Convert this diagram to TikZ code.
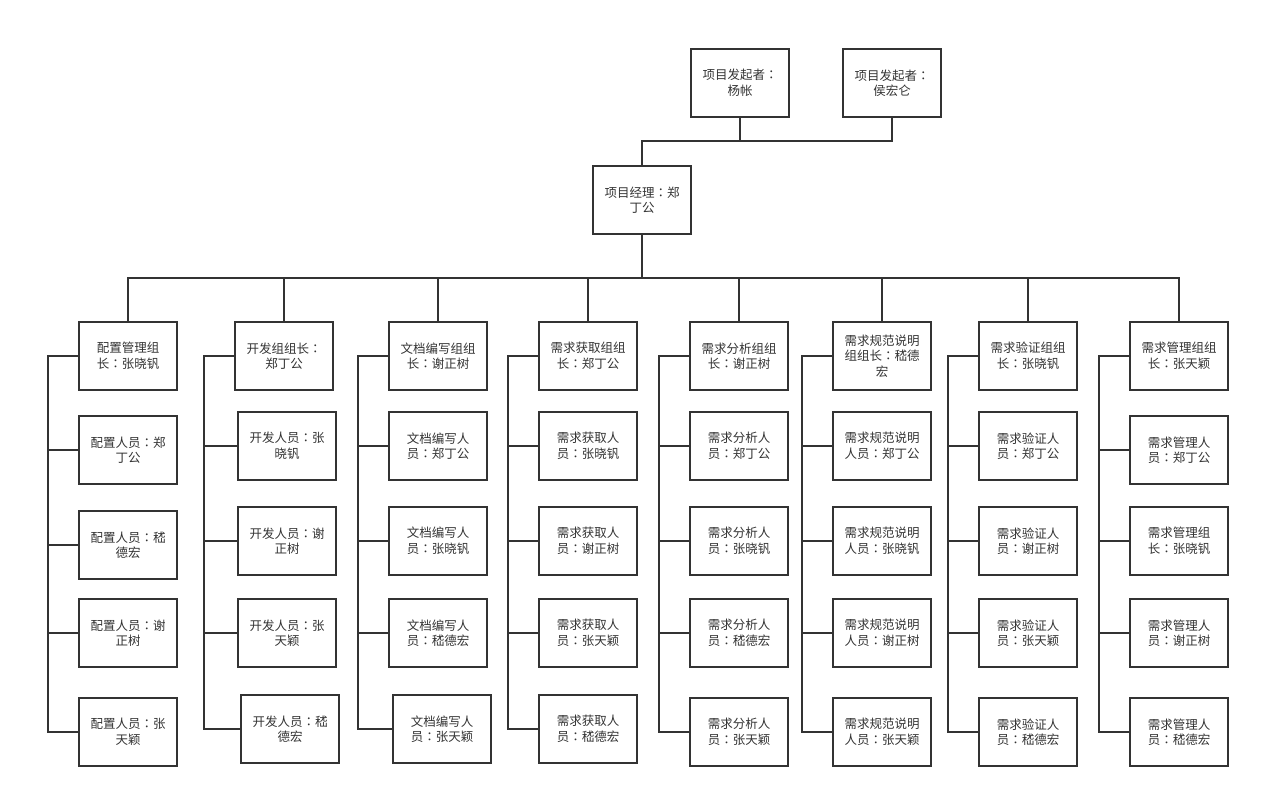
\documentclass[tikz,border=0pt]{standalone}
\usepackage{fontspec}
\newfontfamily\cjk{Noto Sans CJK SC}
\newfontfamily\cjkjp{Noto Sans CJK JP}
\newcommand\fwcolon{{\cjkjp ：}}
\usepackage{tikz}
\usetikzlibrary{calc,positioning}
\definecolor{linegray}{HTML}{333333}
\tikzset{
    member/.style={
    rectangle,draw=linegray,line width=1.8pt,minimum width=98pt,minimum height=68pt,
    align=center,text=linegray,inner sep=0pt,font=\cjk\fontsize{12.5}{15.5}\selectfont
    },
    wire/.style={
    draw=linegray,line width=1.8pt
    },
    thinwire/.style={
    draw=linegray,line width=1.4pt
    },
}
\begin{document}
\begin{tikzpicture}[x=1pt,y=-1pt]
  \useasboundingbox (0,0) rectangle (1261,799);
  % sponsors and manager
  \node[member] (SP1) at (740,83) {项目发起者\fwcolon\\杨帐};
  \node[member] (SP2) at (892,83) {项目发起者\fwcolon\\侯宏仑};
  \node[member] (PM) at (642,200) {项目经理\fwcolon 郑\\丁公};

  % group leaders
  \node[member] (CM) at (128,356) {配置管理组\\长\fwcolon 张晓钒};
  \node[member] (DEV) at (284,356) {开发组组长\fwcolon\\郑丁公};
  \node[member] (DOC) at (438,356) {文档编写组组\\长\fwcolon 谢正树};
  \node[member] (RE) at (588,356) {需求获取组组\\长\fwcolon 郑丁公};
  \node[member] (RA) at (739,356) {需求分析组组\\长\fwcolon 谢正树};
  \node[member] (RS) at (882,356) {需求规范说明\\组组长\fwcolon 嵇德\\宏};
  \node[member] (RV) at (1028,356) {需求验证组组\\长\fwcolon 张晓钒};
  \node[member] (RM) at (1179,356) {需求管理组组\\长\fwcolon 张天颖};

  % members
  \node[member] (CM1) at (128,450) {配置人员\fwcolon 郑\\丁公};
  \node[member] (CM2) at (128,545) {配置人员\fwcolon 嵇\\德宏};
  \node[member] (CM3) at (128,633) {配置人员\fwcolon 谢\\正树};
  \node[member] (CM4) at (128,732) {配置人员\fwcolon 张\\天颖};

  \node[member] (DEV1) at (287,446) {开发人员\fwcolon 张\\晓钒};
  \node[member] (DEV2) at (287,541) {开发人员\fwcolon 谢\\正树};
  \node[member] (DEV3) at (287,633) {开发人员\fwcolon 张\\天颖};
  \node[member] (DEV4) at (290,729) {开发人员\fwcolon 嵇\\德宏};

  \node[member] (DOC1) at (438,446) {文档编写人\\员\fwcolon 郑丁公};
  \node[member] (DOC2) at (438,541) {文档编写人\\员\fwcolon 张晓钒};
  \node[member] (DOC3) at (438,633) {文档编写人\\员\fwcolon 嵇德宏};
  \node[member] (DOC4) at (442,729) {文档编写人\\员\fwcolon 张天颖};

  \node[member] (RE1) at (588,446) {需求获取人\\员\fwcolon 张晓钒};
  \node[member] (RE2) at (588,541) {需求获取人\\员\fwcolon 谢正树};
  \node[member] (RE3) at (588,633) {需求获取人\\员\fwcolon 张天颖};
  \node[member] (RE4) at (588,729) {需求获取人\\员\fwcolon 嵇德宏};

  \node[member] (RA1) at (739,446) {需求分析人\\员\fwcolon 郑丁公};
  \node[member] (RA2) at (739,541) {需求分析人\\员\fwcolon 张晓钒};
  \node[member] (RA3) at (739,633) {需求分析人\\员\fwcolon 嵇德宏};
  \node[member] (RA4) at (739,732) {需求分析人\\员\fwcolon 张天颖};

  \node[member] (RS1) at (882,446) {需求规范说明\\人员\fwcolon 郑丁公};
  \node[member] (RS2) at (882,541) {需求规范说明\\人员\fwcolon 张晓钒};
  \node[member] (RS3) at (882,633) {需求规范说明\\人员\fwcolon 谢正树};
  \node[member] (RS4) at (882,732) {需求规范说明\\人员\fwcolon 张天颖};

  \node[member] (RV1) at (1028,446) {需求验证人\\员\fwcolon 郑丁公};
  \node[member] (RV2) at (1028,541) {需求验证人\\员\fwcolon 谢正树};
  \node[member] (RV3) at (1028,633) {需求验证人\\员\fwcolon 张天颖};
  \node[member] (RV4) at (1028,732) {需求验证人\\员\fwcolon 嵇德宏};

  \node[member] (RM1) at (1179,450) {需求管理人\\员\fwcolon 郑丁公};
  \node[member] (RM2) at (1179,541) {需求管理组\\长\fwcolon 张晓钒};
  \node[member] (RM3) at (1179,633) {需求管理人\\员\fwcolon 谢正树};
  \node[member] (RM4) at (1179,732) {需求管理人\\员\fwcolon 嵇德宏};

  % buses
  \coordinate (topbus) at (642,141);
  \coordinate (midbus) at (642,278);
  \draw[thinwire] (SP2.south) |- (topbus) -- (PM.north);
  \draw[thinwire] (SP1.south) -- (SP1.south |- topbus);
  \draw[wire] (PM.south) -- (midbus);
  \draw[wire] (CM.north) |- (midbus) -| (RM.north);
  \draw[wire] (DEV.north) -- (DEV.north |- midbus);
  \draw[wire] (DOC.north) -- (DOC.north |- midbus);
  \draw[wire] (RE.north) -- (RE.north |- midbus);
  \draw[wire] (RA.north) -- (RA.north |- midbus);
  \draw[wire] (RS.north) -- (RS.north |- midbus);
  \draw[wire] (RV.north) -- (RV.north |- midbus);

  % spines
  \coordinate (sCM) at (48,356);
  \coordinate (sDEV) at (204,356);
  \coordinate (sDOC) at (358,356);
  \coordinate (sRE) at (508,356);
  \coordinate (sRA) at (659,356);
  \coordinate (sRS) at (802,356);
  \coordinate (sRV) at (948,356);
  \coordinate (sRM) at (1099,356);
  \foreach \g in {CM,DEV,DOC,RE,RA,RS,RV,RM}{
    \draw[wire] (\g.west) -- (s\g) |- (\g4.west);
    \draw[wire] (\g1.west) -- (s\g |- \g1.west);
    \draw[wire] (\g2.west) -- (s\g |- \g2.west);
    \draw[wire] (\g3.west) -- (s\g |- \g3.west);
  }
\end{tikzpicture}
\end{document}
